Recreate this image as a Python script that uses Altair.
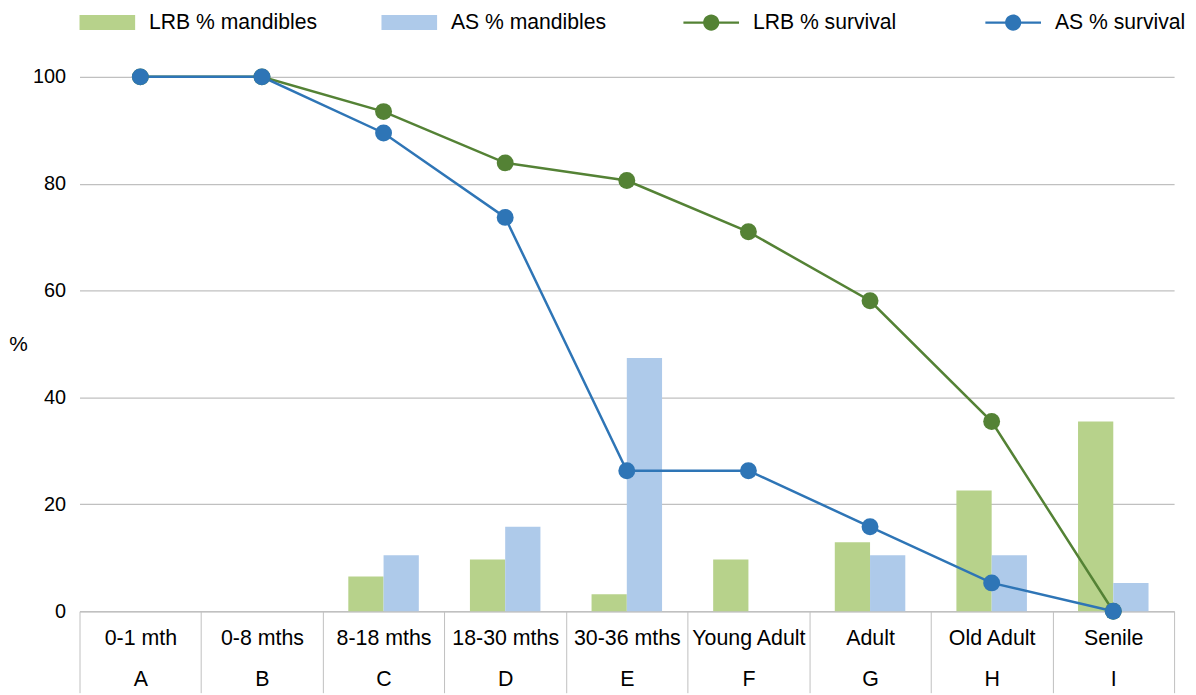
import altair as alt
import pandas as pd

categories = ["0-1 mth", "0-8 mths", "8-18 mths", "18-30 mths", "30-36 mths",
              "Young Adult", "Adult", "Old Adult", "Senile"]
letters = ["A", "B", "C", "D", "E", "F", "G", "H", "I"]
lrb_mand = [0, 0, 6.5, 9.7, 3.2, 9.7, 12.9, 22.6, 35.5]
as_mand = [0, 0, 10.5, 15.8, 47.4, 0, 10.5, 10.5, 5.3]
lrb_surv = [100, 100, 93.5, 83.9, 80.6, 71.0, 58.1, 35.5, 0]
as_surv = [100, 100, 89.5, 73.7, 26.3, 26.3, 15.8, 5.3, 0]

series = ["LRB % mandibles", "AS % mandibles", "LRB % survival", "AS % survival"]
colors = ["#b7d28b", "#aecaea", "#548235", "#2e75b6"]

bars = pd.DataFrame(
    [{"cat": c, "series": series[0], "v": v} for c, v in zip(categories, lrb_mand)]
    + [{"cat": c, "series": series[1], "v": v} for c, v in zip(categories, as_mand)]
)
lines = pd.DataFrame(
    [{"cat": c, "series": series[2], "v": v, "o": i} for i, (c, v) in enumerate(zip(categories, lrb_surv))]
    + [{"cat": c, "series": series[3], "v": v, "o": i} for i, (c, v) in enumerate(zip(categories, as_surv))]
)
legend_rows = pd.DataFrame({"cat": [categories[0]] * 4, "series": series, "v": [0] * 4})

FONT = "Liberation Sans"
GRID = "#c0c0c0"

cat_arr = "[" + ",".join("'" + c + "'" for c in categories) + "]"
let_arr = "[" + ",".join("'" + l + "'" for l in letters) + "]"
label_expr = f"[datum.label, {let_arr}[indexof({cat_arr}, datum.label)]]"

RECT = "M-1,-0.27H1V0.27H-1Z"
LINEP = ("M-1,-0.04H1V0.04H-1Z"
         "M0.29,0A0.29,0.29 0 1 1 -0.29,0A0.29,0.29 0 1 1 0.29,0Z")

color_scale = alt.Scale(domain=series, range=colors)
legend = alt.Legend(
    orient="none", legendX=0, legendY=-83, direction="horizontal",
    columns=4, gridAlign="all", columnPadding=64, title=None,
    labelFont=FONT, labelFontSize=21.3, labelColor="#000000",
    labelOffset=14, labelLimit=400, symbolSize=3136,
    symbolOpacity=1, symbolStrokeWidth=0, symbolType=RECT,
)
color_enc = alt.Color("series:N", scale=color_scale, legend=legend)
shape_enc = alt.Shape(
    "series:N",
    scale=alt.Scale(domain=series, range=[RECT, RECT, LINEP, LINEP]),
    legend=legend,
)

x = alt.X(
    "cat:N", sort=categories, title=None,
    scale=alt.Scale(paddingInner=0, paddingOuter=0),
    axis=alt.Axis(
        labelAngle=0, labelFont=FONT, labelFontSize=21.5, labelColor="#000000",
        labelExpr=label_expr, labelLineHeight=42, labelBaseline="top",
        labelPadding=-66, tickBand="extent", tickSize=82, tickColor=GRID,
        tickWidth=1, domainColor=GRID, domainWidth=1.5, grid=False,
        labelLimit=200,
    ),
)
y = alt.Y(
    "v:Q", scale=alt.Scale(domain=[0, 100]),
    axis=alt.Axis(
        values=[0, 20, 40, 60, 80, 100], labelFont=FONT, labelFontSize=20,
        labelColor="#000000", labelPadding=14, ticks=False, domain=False,
        grid=True, gridColor=GRID, gridWidth=1.2, title="%",
        titleAngle=0, titleFont=FONT, titleFontSize=21, titleFontWeight="normal",
        titleColor="#000000", titleX=-62, titleY=269, titleAlign="center",
        titleBaseline="middle",
    ),
)

legend_layer = alt.Chart(legend_rows).mark_point(filled=True, opacity=0, size=10).encode(
    x=x, y=y, color=color_enc, shape=shape_enc,
)
bar_layer = alt.Chart(bars).mark_bar().encode(
    x=x, y=y, color=color_enc,
    xOffset=alt.XOffset("series:N",
                        scale=alt.Scale(domain=series[:2], paddingInner=0, paddingOuter=0.725)),
)
line_layer = alt.Chart(lines).mark_line(strokeWidth=2.5).encode(
    x=x, y=y, color=color_enc, order="o:Q", detail="series:N",
)
pt_layer = alt.Chart(lines).mark_circle(size=290, opacity=1).encode(
    x=x, y=y, color=color_enc,
)

chart = alt.layer(legend_layer, bar_layer, line_layer, pt_layer).properties(
    width=1102, height=538,
    autosize=alt.AutoSizeParams(type="none"),
    padding={"left": 72, "top": 67, "right": 14, "bottom": 82},
    background="white",
).configure_view(stroke=None)

chart.save("out.html", embed_options={"renderer": "svg", "actions": False})
